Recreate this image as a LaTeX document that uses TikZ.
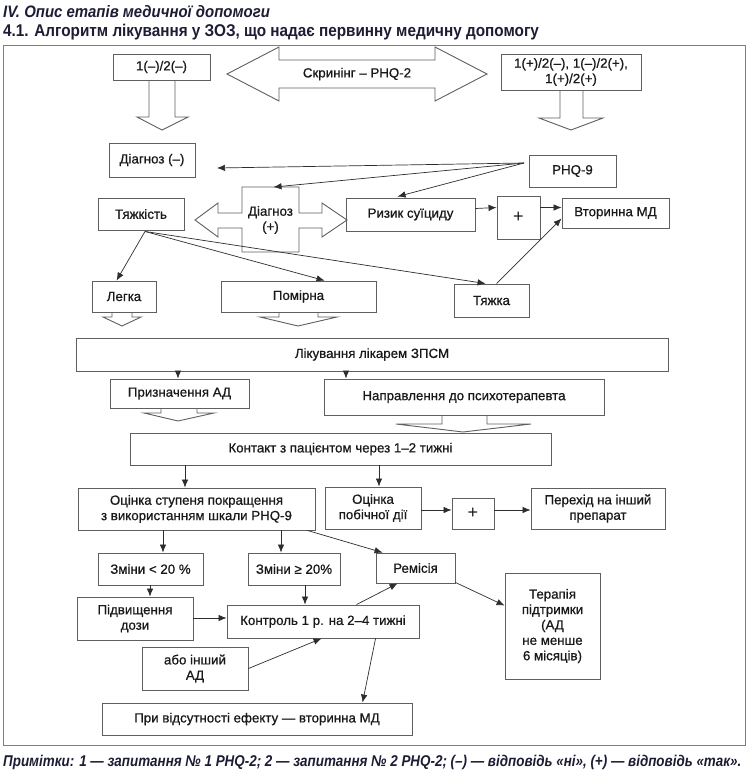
\documentclass[tikz,border=0pt]{standalone}
\usepackage{fontspec}
\setmainfont{Liberation Sans}
\newfontfamily\boxfont[FakeBold=0.7]{Liberation Sans}
\newfontfamily\titlefont[FakeStretch=0.9]{Liberation Sans}
\newfontfamily\notefont[FakeStretch=0.86]{Liberation Sans}
\usetikzlibrary{arrows.meta,calc}
\definecolor{linec}{RGB}{95,95,95}
\definecolor{arrc}{RGB}{45,45,45}
\definecolor{txtc}{RGB}{25,25,25}
\definecolor{titlec}{RGB}{28,28,52}
\newcommand\mybox[6]{\node[box, minimum width={#4-#2}, minimum height={#5-#3}] (#1) at ({(#2+#4)/2},{(#3+#5)/2}) {#6};}
\begin{document}
\begin{tikzpicture}[x=1pt,y=-1pt,
 box/.style={draw=linec, line width=0.9pt, inner sep=0pt, align=center, font=\boxfont\fontsize{13.3}{15.4}\selectfont, text=txtc},
 plusbox/.style={box, font=\fontsize{18}{18}\selectfont},
 arr/.style={draw=arrc, line width=0.7pt, -{Latex[length=8pt,width=6.5pt]}},
 hollow/.style={draw=linec, line width=0.9pt, line join=miter},
 ttl/.style={anchor=base west, inner sep=0pt, text=titlec},
]
\useasboundingbox (0,0) rectangle (750,774);
\fill[white] (0,0) rectangle (750,774);
% titles
\node[ttl, font=\titlefont\bfseries\itshape\fontsize{16.6}{18}\selectfont] (t1) at (3,17) {IV. Опис етапів медичної допомоги};
\node[ttl, font=\titlefont\bfseries\fontsize{17}{18}\selectfont] (t2) at (3,36) {4.1. Алгоритм лікування у ЗОЗ, що надає первинну медичну допомогу};
\node[ttl, font=\notefont\bfseries\itshape\fontsize{15.6}{17}\selectfont] (note) at (3,766) {Примітки: 1 — запитання № 1 PHQ-2; 2 — запитання № 2 PHQ-2; (–) — відповідь «ні», (+) — відповідь «так».};
% frame
\draw[draw=linec!80, line width=1pt] (3,45) rectangle (745,745);

% row 1
\mybox{nn}{113}{54}{210}{80}{1(–)/2(–)}
\mybox{pp}{501}{54}{641}{90}{1(+)/2(–), 1(–)/2(+),\\ 1(+)/2(+)}
\draw[hollow] (227,74) -- (279,47) -- (279,60) -- (435,60) -- (435,47) -- (487,74) -- (435,101) -- (435,88) -- (279,88) -- (279,101) -- cycle;
\node[box, draw=none] (screen) at (357,74) {Скринінг – PHQ-2};
\draw[hollow] (149,80) -- (149,117) -- (137,117) -- (162,130) -- (188,117) -- (175,117) -- (175,80);
\draw[hollow] (560,90) -- (560,118) -- (539,118) -- (571,130) -- (603,118) -- (583,118) -- (583,90);

% row 2
\mybox{dminus}{109}{143}{195}{177}{Діагноз (–)}
\mybox{phq}{529}{155}{616}{187}{PHQ-9}
\coordinate (phqL) at (524,163);
\coordinate (dmT) at (217,168);

% row 3
\mybox{tyazh}{98}{198}{184}{230}{Тяжкість}
\mybox{ryz}{346}{198}{475}{231}{Ризик суїциду}
\node[plusbox, minimum width=43, minimum height=43] (plus1) at (518.5,217.5) {+};
\mybox{vtor}{562}{198}{669}{228}{Вторинна МД}
\draw[hollow] (242,187) -- (299,187) -- (299,213) -- (322,213) -- (322,203) -- (347,220) -- (322,237) -- (322,228) -- (299,228) -- (299,252) -- (242,252) -- (242,228) -- (218,228) -- (218,237) -- (195,220) -- (218,203) -- (218,213) -- (242,213) -- cycle;
\node[box, draw=none, minimum width=57, minimum height=65] (dplus) at (270.5,220) {Діагноз\\(+)};

\draw[arr] (phqL) -- (dmT);
\draw[arr] (phqL) -- ($(dplus.north)+(3,0)$);
\draw[arr] (phqL) -- ($(ryz.north west)+(52,-1)$);

% row 4
\mybox{legka}{92}{281}{156}{312}{Легка}
\mybox{pomirna}{221}{281}{376}{312}{Помірна}
\mybox{tyazhka}{454}{284}{529}{317}{Тяжка}
\draw[hollow] (112,312) -- (112,317) -- (103,317) -- (122,326) -- (141,317) -- (132,317) -- (132,312);
\draw[hollow] (279,312) -- (279,317) -- (260,317) -- (298,326) -- (337,317) -- (318,317) -- (318,312);

\coordinate (ts) at ($(tyazh.south)+(4,1)$);
\draw[arr] (ts) -- ($(legka.north west)+(25,0)$);
\draw[arr] (ts) -- ($(pomirna.north west)+(104,0)$);
\draw[arr] (ts) -- ($(tyazhka.north west)+(32,0)$);
\draw[arr] ($(tyazhka.north west)+(43,0)$) -- ($(vtor.south west)+(0,-10)$);
\draw[arr] ($(ryz.east)+(0,-6)$) -- ($(plus1.west)+(0,-10)$);
\draw[arr] ($(plus1.east)+(0,-10)$) -- ($(vtor.west)+(0,-5.5)$);

% treatment
\mybox{zpsm}{76}{338}{668}{371}{Лікування лікарем ЗПСМ}
\mybox{pryzn}{110}{379}{249}{408}{Призначення АД}
\mybox{napr}{324}{379}{604}{415}{Направлення до психотерапевта}
\draw[arr] (zpsm.south -| 178,0) -- (pryzn.north -| 178,0);
\draw[arr] (zpsm.south -| 346,0) -- (napr.north -| 346,0);
\draw[hollow] (161,408) -- (161,413) -- (144,413) -- (178,421) -- (214,413) -- (197,413) -- (197,408);
\draw[hollow] (442,415) -- (442,424) -- (396,424) -- (463,432) -- (531,424) -- (487,424) -- (487,415);

\mybox{kontakt}{130}{433}{551}{465}{Контакт з пацієнтом через 1–2 тижні}
\mybox{otsst}{78}{488}{315}{530}{Оцінка ступеня покращення\\з використанням шкали PHQ-9}
\mybox{otspob}{325}{487}{421}{529}{Оцінка\\побічної дії}
\node[plusbox, minimum width=42, minimum height=31] (plus2) at (473,513.5) {+};
\mybox{perehid}{531}{488}{665}{529}{Перехід на інший\\препарат}
\draw[arr] (kontakt.south -| 185,0) -- (otsst.north -| 185,0);
\draw[arr] (kontakt.south -| 379,0) -- (otspob.north -| 379,0);
\draw[arr] (otspob.east |- 0,510) -- (plus2.west |- 0,510);
\draw[arr] (plus2.east |- 0,510) -- (perehid.west |- 0,510);

% lower
\mybox{zm1}{98}{553}{203}{585}{Зміни < 20 \%}
\mybox{zm2}{248}{553}{340}{585}{Зміни ≥ 20\%}
\mybox{remis}{376}{553}{455}{583}{Ремісія}
\mybox{terap}{505}{573}{600}{679}{Терапія\\підтримки\\(АД\\не менше\\6 місяців)}
\mybox{pidv}{77}{597}{193}{640}{Підвищення\\дози}
\mybox{kontr}{227}{605}{419}{638}{Контроль 1 р. на 2–4 тижні}
\mybox{abo}{142}{647}{248}{690}{або інший\\АД}
\mybox{pry}{102}{703}{412}{735}{При відсутності ефекту — вторинна МД}

\draw[arr] (otsst.south -| 163,0) -- (zm1.north -| 163,0);
\draw[arr] (otsst.south -| 281,0) -- (zm2.north -| 281,0);
\draw[arr] ($(otsst.south east)+(-8,0)$) -- ($(remis.north west)+(7,0)$);
\draw[arr] (zm1.south -| 150,0) -- (pidv.north -| 150,0);
\draw[arr] (zm2.south -| 305,0) -- (kontr.north -| 305,0);
\draw[arr] (pidv.east |- 0,618) -- (kontr.west |- 0,618);
\draw[arr] ($(kontr.north west)+(130,0)$) -- ($(remis.south west)+(22,0)$);
\draw[arr] ($(remis.south east)+(0,-1)$) -- ($(terap.north west)+(0,33)$);
\draw[arr] (abo.east) -- ($(kontr.south west)+(95,0)$);
\draw[arr] ($(kontr.south west)+(149,0)$) -- ($(pry.north west)+(261,0)$);
\end{tikzpicture}
\end{document}
